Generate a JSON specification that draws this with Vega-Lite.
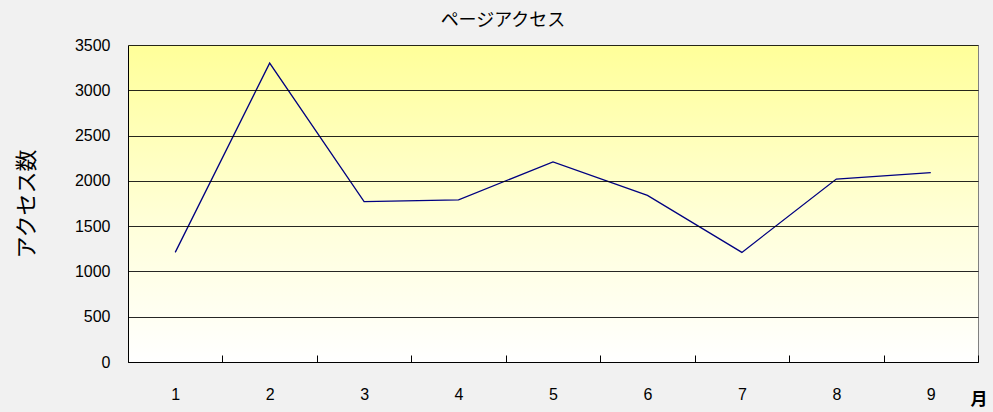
{
  "$schema": "https://vega.github.io/schema/vega-lite/v6.json",
  "autosize": {"type": "none"},
  "width": 850,
  "height": 317,
  "padding": {"left": 128, "top": 45, "right": 15, "bottom": 50},
  "background": "#f1f1f1",
  "title": {
    "text": "ページアクセス",
    "font": "Noto Sans CJK JP",
    "fontSize": 18,
    "fontWeight": "normal",
    "color": "#000000",
    "anchor": "middle",
    "dx": -50,
    "offset": 7
  },
  "config": {
    "view": {"stroke": "#808080", "strokeWidth": 1},
    "font": "Noto Sans CJK JP"
  },
  "data": {
    "values": [
      {"month": "1", "access": 1210},
      {"month": "2", "access": 3300},
      {"month": "3", "access": 1770},
      {"month": "4", "access": 1790},
      {"month": "5", "access": 2210},
      {"month": "6", "access": 1840},
      {"month": "7", "access": 1210},
      {"month": "8", "access": 2020},
      {"month": "9", "access": 2090}
    ]
  },
  "layer": [
    {
      "mark": {
        "type": "rect",
        "color": {
          "gradient": "linear",
          "x1": 0, "y1": 0, "x2": 0, "y2": 1,
          "stops": [
            {"offset": 0, "color": "#ffff99"},
            {"offset": 0.6, "color": "#ffffdd"},
            {"offset": 1, "color": "#ffffff"}
          ]
        }
      },
      "encoding": {
        "y": {"datum": 0, "type": "quantitative", "scale": {"domain": [0, 3500], "nice": false}, "title": "アクセス数"},
        "y2": {"datum": 3500}
      }
    },
    {
      "mark": {"type": "line", "color": "#000080", "strokeWidth": 1.3},
      "encoding": {
        "x": {
          "field": "month",
          "type": "ordinal",
          "scale": {"paddingInner": 0, "paddingOuter": 0},
          "axis": {
            "title": "月",
            "titleFont": "Noto Sans CJK JP",
            "titleFontSize": 17,
            "titleFontWeight": "bold",
            "titleColor": "#000000",
            "titleAnchor": "end",
            "titleAlign": "left",
            "titleBaseline": "middle",
            "titleX": 842,
            "titleY": 37,
            "labelAngle": 0,
            "labelFont": "Liberation Sans",
            "labelFontSize": 16,
            "labelColor": "#000000",
            "labelPadding": 31,
            "tickBand": "extent",
            "tickSize": -7,
            "tickColor": "#000000",
            "domainColor": "#000000",
            "grid": false,
            "zindex": 1
          }
        },
        "y": {
          "field": "access",
          "type": "quantitative",
          "scale": {"domain": [0, 3500], "nice": false},
          "title": "アクセス数",
          "axis": {
            "values": [0, 500, 1000, 1500, 2000, 2500, 3000, 3500],
            "format": "d",
            "grid": true,
            "gridColor": "#000000",
            "gridOpacity": 0.85,
            "ticks": false,
            "domainColor": "#000000",
            "labelFont": "Liberation Sans",
            "labelFontSize": 16,
            "labelColor": "#000000",
            "labelPadding": 18,
            "titleFontSize": 22,
            "titleFontWeight": "normal",
            "titleColor": "#000000",
            "titlePadding": 36,
            "zindex": 1
          }
        }
      }
    }
  ]
}
